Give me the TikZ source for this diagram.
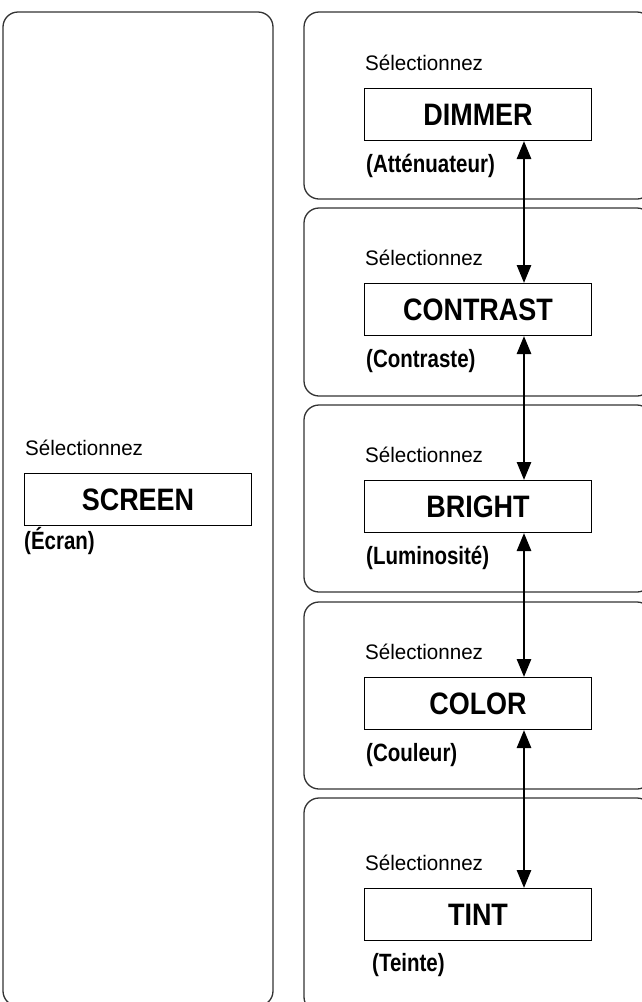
\documentclass[tikz,border=0pt]{standalone}
\usepackage{fontspec}
\setmainfont{Liberation Sans}
\newfontfamily\condfont[FakeStretch=0.87]{Liberation Sans}
\newfontfamily\subfont[FakeStretch=0.82]{Liberation Sans}
\newfontfamily\selfont[FakeStretch=0.98]{Liberation Sans}
\usetikzlibrary{arrows.meta}
\tikzset{
  panel/.style={draw=black!80, line width=1.3pt, rounded corners=15pt},
  keybox/.style={draw, line width=1pt, minimum width=227pt, minimum height=52pt,
    inner sep=0pt, anchor=north west, font=\condfont\bfseries\fontsize{31}{36}\selectfont},
  sel/.style={anchor=base west, inner sep=0pt, font=\selfont\fontsize{21}{26}\selectfont},
  sub/.style={anchor=base west, inner sep=0pt, font=\subfont\bfseries\fontsize{25}{30}\selectfont},
  dbl/.style={{Triangle[width=14pt,length=18pt]}-{Triangle[width=14pt,length=18pt]}, line width=2.7pt}
}
\begin{document}
\begin{tikzpicture}[x=1pt,y=-1pt]
\clip (0,0) rectangle (642,1002);
\fill[white] (0,0) rectangle (642,1002);
% panels
\draw[panel] (3,12) rectangle (273,1006);
\draw[panel] (304,12) rectangle (652,199);
\draw[panel] (304,208) rectangle (652,396);
\draw[panel] (304,405) rectangle (652,592);
\draw[panel] (304,602) rectangle (652,789);
\draw[panel] (304,798) rectangle (652,1012);
% left
\node[keybox] (screen) at (24,473) {SCREEN};
\node[sel] (selS) at ([yshift=18pt,xshift=1pt]screen.north west) {Sélectionnez};
\node[sub] (subS) at ([yshift=-23pt]screen.south west) {(Écran)};
% right
\node[keybox] (dimmer) at (364,88) {DIMMER};
\node[keybox] (contrast) at (364,283) {CONTRAST};
\node[keybox] (bright) at (364,480) {BRIGHT};
\node[keybox] (color) at (364,677) {COLOR};
\node[keybox] (tint) at (364,888) {TINT};
\foreach \b in {dimmer,contrast,bright,color,tint}{
  \node[sel] (sel\b) at ([yshift=18pt,xshift=1pt]\b.north west) {Sélectionnez};
}
\node[sub] (subD) at ([yshift=-31pt,xshift=2pt]dimmer.south west) {(Atténuateur)};
\node[sub] (subC) at ([yshift=-31pt,xshift=2pt]contrast.south west) {(Contraste)};
\node[sub] (subB) at ([yshift=-31pt,xshift=2pt]bright.south west) {(Luminosité)};
\node[sub] (subCo) at ([yshift=-31pt,xshift=2pt]color.south west) {(Couleur)};
\node[sub] (subT) at ([yshift=-30pt,xshift=8pt]tint.south west) {(Teinte)};
% arrows
\coordinate (ax) at (524,0);
\draw[dbl] (dimmer.south -| ax) -- (contrast.north -| ax);
\draw[dbl] (contrast.south -| ax) -- (bright.north -| ax);
\draw[dbl] (bright.south -| ax) -- (color.north -| ax);
\draw[dbl] (color.south -| ax) -- (tint.north -| ax);
\end{tikzpicture}
\end{document}
